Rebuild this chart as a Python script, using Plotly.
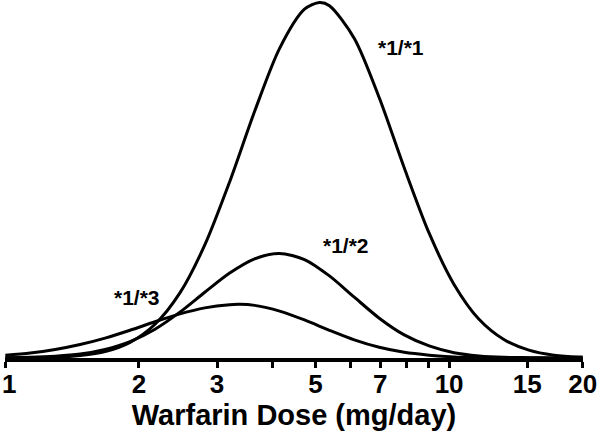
import math
import plotly.graph_objects as go

# Dose (mg/day) sample points, relative frequency (peak of *1/*1 = 100)
dose_11 = [1.000, 1.138, 1.295, 1.474, 1.678, 1.910, 2.174, 2.474, 2.815, 3.203, 3.646,
           4.150, 4.722, 5.105, 5.375, 6.116, 6.961, 7.923, 9.017, 10.26, 11.68, 13.29,
           15.13, 17.22, 19.60, 20.0]
freq_11 = [0.0, 0.1, 0.2, 0.7, 1.8, 4.4, 9.5, 18.3, 31.8, 49.6, 69.4,
           87.1, 98.1, 100.0, 99.1, 89.9, 73.2, 53.5, 35.1, 20.7, 10.9, 5.2,
           2.2, 0.8, 0.3, 0.3]

dose_12 = [1.000, 1.138, 1.295, 1.474, 1.678, 1.910, 2.174, 2.474, 2.815, 3.203, 3.646,
           4.150, 4.722, 5.375, 6.116, 6.961, 7.923, 9.017, 10.26, 11.68, 13.29,
           15.13, 17.22, 19.60, 20.0]
freq_12 = [0.1, 0.2, 0.5, 1.1, 2.4, 4.6, 8.1, 12.9, 18.5, 23.9, 27.9,
           29.4, 27.7, 23.1, 17.1, 11.2, 6.5, 3.4, 1.5, 0.6, 0.2,
           0.1, 0.0, 0.0, 0.0]

dose_13 = [1.000, 1.138, 1.295, 1.474, 1.678, 1.910, 2.174, 2.474, 2.815, 3.203, 3.374,
           3.646, 4.150, 4.722, 5.375, 6.116, 6.961, 7.923, 9.017, 10.26, 11.68, 13.29,
           15.13, 17.22, 19.60, 20.0]
freq_13 = [0.8, 1.4, 2.4, 3.8, 5.6, 7.8, 10.2, 12.4, 14.1, 15.0, 15.1,
           14.8, 13.2, 10.7, 7.8, 5.1, 3.0, 1.6, 0.8, 0.3, 0.1, 0.0,
           0.0, 0.0, 0.0, 0.0]

tick_vals = [1, 2, 3, 4, 5, 6, 7, 8, 9, 10, 15, 20]
tick_text = ["1", "2", "3", "", "5", "", "7", "", "", "10", "15", "20"]

series = [("*1/*1", dose_11, freq_11), ("*1/*2", dose_12, freq_12), ("*1/*3", dose_13, freq_13)]

fig = go.Figure()
for name, xs, ys in series:
    fig.add_trace(go.Scatter(x=xs, y=ys, mode="lines", name=name,
                             line=dict(color="black", width=3, shape="spline", smoothing=0.8),
                             showlegend=False, hoverinfo="skip"))

font_fam = "Liberation Sans, Arial, sans-serif"
labels = [("*1/*1", 7.80, 87.4), ("*1/*2", 5.87, 31.7), ("*1/*3", 1.98, 17.1)]
for txt, xa, ya in labels:
    fig.add_annotation(x=math.log10(xa), y=ya, xref="x", yref="y", text=txt,
                       showarrow=False, font=dict(family=font_fam, size=21, color="black", weight="bold"))

tick_font = dict(family=font_fam, size=26, color="black", weight="bold")
# first tick label drawn at the left edge of the page so it is not clipped
fig.add_annotation(x=0, y=-0.0726, xref="paper", yref="paper", text=tick_text[0],
                   xanchor="left", yanchor="middle", xshift=-5, showarrow=False, font=tick_font)
axis_text = [""] + tick_text[1:]

fig.update_layout(
    width=600, height=436,
    margin=dict(l=5, r=17, t=0, b=78, autoexpand=False),
    paper_bgcolor="white", plot_bgcolor="white",
    xaxis=dict(type="log", range=[-0.0008, 1.3018], tickvals=tick_vals, ticktext=axis_text,
               automargin=False, ticklabeloverflow="allow", ticklabelstandoff=-6,
               showgrid=False, zeroline=False, showline=True, linecolor="black", linewidth=4,
               ticks="outside", ticklen=6, tickwidth=3, tickcolor="black",
               tickfont=tick_font,
               title=dict(text="Warfarin Dose (mg/day)", standoff=2,
                          font=dict(family=font_fam, size=29, color="black", weight="bold"))),
    yaxis=dict(visible=False, range=[0, 100.7], showgrid=False, zeroline=False, automargin=False),
)

fig.write_html("out.html", config={"displayModeBar": False},
               post_script="document.body.style.margin='0';document.body.style.overflow='hidden';")
